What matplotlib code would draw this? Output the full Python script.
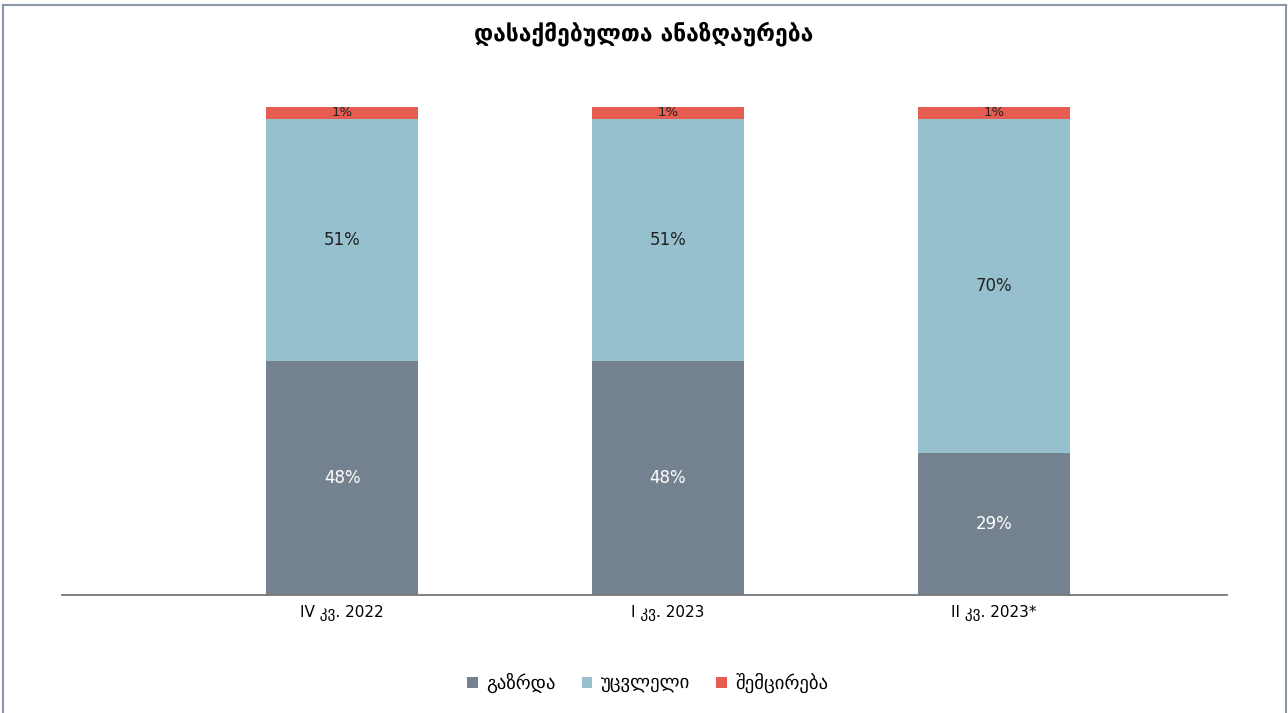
import matplotlib
matplotlib.use('Agg')
import matplotlib.pyplot as plt
from matplotlib.lines import Line2D
import numpy as np

# Data (segment heights as drawn, labels as printed on the chart)
categories = ['IV კვ. 2022', 'I კვ. 2023', 'II კვ. 2023*']
increase = [47.9, 47.9, 29.0]
unchanged = [49.7, 49.7, 68.6]
decrease = [2.4, 2.4, 2.4]
increase_labels = ['48%', '48%', '29%']
unchanged_labels = ['51%', '51%', '70%']
decrease_labels = ['1%', '1%', '1%']
series_names = ['გაზრდა', 'უცვლელი', 'შემცირება']

colors = ['#748290', '#97c0ce', '#e65c50']

plt.rcParams['font.family'] = ['DejaVu Sans']

fig = plt.figure(figsize=(12.88, 7.13), dpi=100)
ax = fig.add_axes([0.0481, 0.1655, 0.9045, 0.6845])

x = np.arange(len(categories))
width = 0.467

b1 = ax.bar(x, increase, width, color=colors[0], label=series_names[0])
b2 = ax.bar(x, unchanged, width, bottom=increase, color=colors[1], label=series_names[1])
bottom3 = [a + b for a, b in zip(increase, unchanged)]
b3 = ax.bar(x, decrease, width, bottom=bottom3, color=colors[2], label=series_names[2])

# Labels
for i in range(len(categories)):
    ax.text(x[i], increase[i] / 2, increase_labels[i], ha='center', va='center',
            color='white', fontsize=12)
    ax.text(x[i], increase[i] + unchanged[i] / 2, unchanged_labels[i], ha='center',
            va='center', color='#222222', fontsize=12)
    ax.text(x[i], bottom3[i] + decrease[i] / 2, decrease_labels[i], ha='center',
            va='center', color='#222222', fontsize=9.5)

ax.set_xlim(-0.86, 2.716)
ax.set_ylim(0, 100)
ax.set_xticks(x)
ax.set_xticklabels(categories, fontsize=11)
ax.tick_params(axis='x', length=0, pad=7)
ax.set_yticks([])
for s in ['top', 'right', 'left']:
    ax.spines[s].set_visible(False)
ax.spines['bottom'].set_color('#777777')
ax.spines['bottom'].set_linewidth(1.3)

fig.text(0.5, 0.953, 'დასაქმებულთა ანაზღაურება', ha='center', va='center',
         fontsize=16.5, fontweight='bold')

fig.legend(handles=[b1, b2, b3], labels=series_names, loc='center',
           bbox_to_anchor=(0.503, 0.042), ncol=3, frameon=False, fontsize=13.5,
           handlelength=0.55, handleheight=0.55, handletextpad=0.45, columnspacing=1.4)

# Frame (left, top, right)
frame_color = '#8a96a3'
fig.add_artist(Line2D([0.0025, 0.0025], [0, 0.9935], transform=fig.transFigure,
                      color=frame_color, lw=1.5))
fig.add_artist(Line2D([0.0025, 0.9985], [0.9935, 0.9935], transform=fig.transFigure,
                      color=frame_color, lw=1.5))
fig.add_artist(Line2D([0.9985, 0.9985], [0, 0.9935], transform=fig.transFigure,
                      color=frame_color, lw=1.5))

fig.savefig('out.png', dpi=100)
